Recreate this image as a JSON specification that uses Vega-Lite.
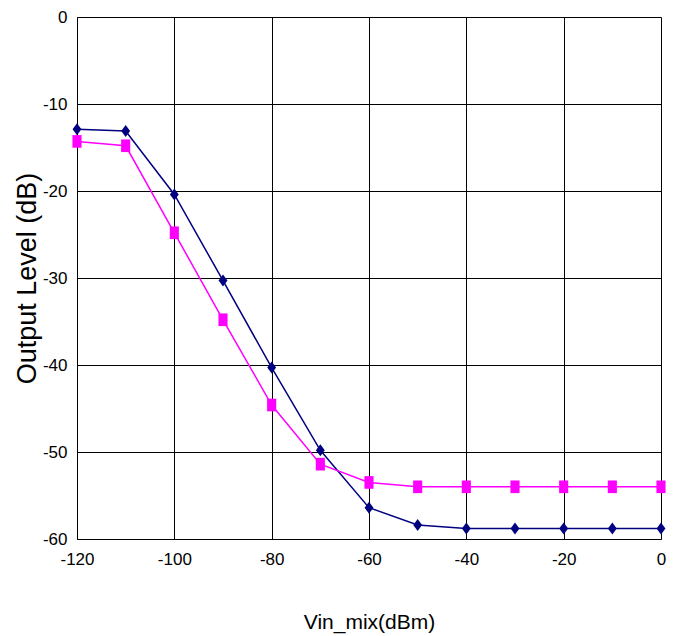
{
  "$schema": "https://vega.github.io/schema/vega-lite/v6.json",
  "autosize": "none",
  "width": 584,
  "height": 522,
  "padding": {"left": 77, "top": 17, "right": 23, "bottom": 97},
  "background": "white",
  "config": {
    "view": {"stroke": null},
    "axis": {
      "labelFont": "Liberation Sans, Arial",
      "labelColor": "#000",
      "titleColor": "#000",
      "gridColor": "#000",
      "gridOpacity": 1,
      "gridWidth": 1,
      "domainColor": "#000",
      "domainWidth": 1,
      "ticks": false,
      "labelFlush": false,
      "labelExpr": "toString(datum.value)",
      "titleFontWeight": "normal"
    }
  },
  "data": {
    "values": [
      {"vin": -120, "level": -12.9, "series": "FILSEL=\"L\""},
      {"vin": -110, "level": -13.1, "series": "FILSEL=\"L\""},
      {"vin": -100, "level": -20.4, "series": "FILSEL=\"L\""},
      {"vin": -90, "level": -30.3, "series": "FILSEL=\"L\""},
      {"vin": -80, "level": -40.3, "series": "FILSEL=\"L\""},
      {"vin": -70, "level": -49.8, "series": "FILSEL=\"L\""},
      {"vin": -60, "level": -56.4, "series": "FILSEL=\"L\""},
      {"vin": -50, "level": -58.4, "series": "FILSEL=\"L\""},
      {"vin": -40, "level": -58.8, "series": "FILSEL=\"L\""},
      {"vin": -30, "level": -58.8, "series": "FILSEL=\"L\""},
      {"vin": -20, "level": -58.8, "series": "FILSEL=\"L\""},
      {"vin": -10, "level": -58.8, "series": "FILSEL=\"L\""},
      {"vin": 0, "level": -58.8, "series": "FILSEL=\"L\""},
      {"vin": -120, "level": -14.3, "series": "FILSEL=\"H\""},
      {"vin": -110, "level": -14.8, "series": "FILSEL=\"H\""},
      {"vin": -100, "level": -24.8, "series": "FILSEL=\"H\""},
      {"vin": -90, "level": -34.8, "series": "FILSEL=\"H\""},
      {"vin": -80, "level": -44.6, "series": "FILSEL=\"H\""},
      {"vin": -70, "level": -51.4, "series": "FILSEL=\"H\""},
      {"vin": -60, "level": -53.5, "series": "FILSEL=\"H\""},
      {"vin": -50, "level": -54.0, "series": "FILSEL=\"H\""},
      {"vin": -40, "level": -54.0, "series": "FILSEL=\"H\""},
      {"vin": -30, "level": -54.0, "series": "FILSEL=\"H\""},
      {"vin": -20, "level": -54.0, "series": "FILSEL=\"H\""},
      {"vin": -10, "level": -54.0, "series": "FILSEL=\"H\""},
      {"vin": 0, "level": -54.0, "series": "FILSEL=\"H\""}
    ]
  },
  "layer": [
    {
      "mark": {"type": "line", "strokeWidth": 1.5},
      "encoding": {
        "x": {
          "field": "vin",
          "type": "quantitative",
          "scale": {"domain": [-120, 0], "nice": false, "zero": false},
          "axis": {
            "values": [-120, -100, -80, -60, -40, -20, 0],
            "title": "Vin_mix(dBm)",
            "labelFontSize": 17,
            "labelPadding": 12,
            "titleFont": "Liberation Sans, Arial",
            "titleFontSize": 21,
            "titleBaseline": "alphabetic",
            "titleY": 89
          }
        },
        "y": {
          "field": "level",
          "type": "quantitative",
          "scale": {"domain": [-60, 0], "nice": false, "zero": false},
          "axis": {
            "values": [-60, -50, -40, -30, -20, -10, 0],
            "title": "Output Level (dB)",
            "labelFontSize": 17,
            "labelPadding": 10,
            "titleFont": "Liberation Sans, Arial",
            "titleFontSize": 27,
            "titleBaseline": "alphabetic",
            "titleX": -42
          }
        },
        "stroke": {
          "field": "series",
          "type": "nominal",
          "scale": {"domain": ["FILSEL=\"L\"", "FILSEL=\"H\""], "range": ["#000080", "#FF00FF"]},
          "legend": null
        }
      }
    },
    {
      "mark": {"type": "point", "filled": true, "opacity": 1, "size": 160},
      "encoding": {
        "x": {"field": "vin", "type": "quantitative"},
        "y": {"field": "level", "type": "quantitative"},
        "color": {
          "field": "series",
          "type": "nominal",
          "scale": {"domain": ["FILSEL=\"L\"", "FILSEL=\"H\""], "range": ["#000080", "#FF00FF"]}
        },
        "shape": {
          "field": "series",
          "type": "nominal",
          "scale": {
            "domain": ["FILSEL=\"L\"", "FILSEL=\"H\""],
            "range": ["M0,-0.95L0.7,0L0,0.95L-0.7,0Z", "M-0.72,-1H0.72V1H-0.72Z"]
          },
          "legend": {
            "orient": "right",
            "offset": -217,
            "title": "\u00a0",
            "titleFontSize": 10,
            "titlePadding": 192,
            "symbolSize": 144,
            "labelFont": "Liberation Sans, Arial",
            "labelFontSize": 21,
            "labelColor": "#000",
            "labelOffset": 20,
            "rowPadding": 22
          }
        }
      }
    }
  ]
}
